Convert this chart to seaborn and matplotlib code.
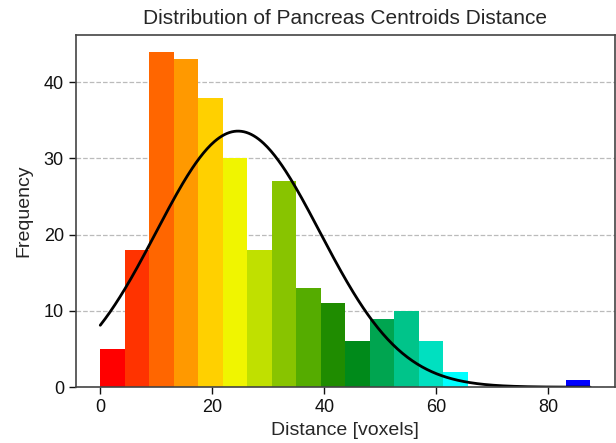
import numpy as np
import pandas as pd
import matplotlib
matplotlib.use("Agg")
import matplotlib.pyplot as plt
import seaborn as sns

# Data
bin_min = 0.0
bin_max = 87.5
counts = [5, 18, 44, 43, 38, 30, 18, 27, 13, 11, 6, 9, 10, 6, 2, 0, 0, 0, 0, 1]
# fitted normal curve parameters
fit_mu = 24.6
fit_sigma = 14.6

bar_colors = ["#ff0000", "#ff3300", "#ff6600", "#ff9900", "#ffd000", "#f0f500",
              "#c0e000", "#88c400", "#55ac00", "#1f8c00", "#008a1a", "#00a550",
              "#00c48a", "#00e0c0", "#00ffff", "#00ccff", "#0099ff", "#0066ff",
              "#0033ff", "#0000ff"]

sns.set_style("white")
plt.rcParams["font.family"] = ["Liberation Sans", "DejaVu Sans"]

n_bins = len(counts)
edges = np.linspace(bin_min, bin_max, n_bins + 1)
centers = (edges[:-1] + edges[1:]) / 2
df = pd.DataFrame({"distance": centers, "count": counts})

fig = plt.figure(figsize=(6.16, 4.43), dpi=100)
ax = fig.add_axes([0.123, 0.126, 0.875, 0.795])

sns.histplot(data=df, x="distance", weights="count", bins=[float(e) for e in edges],
             ax=ax, edgecolor="none", alpha=1.0, linewidth=0)
for patch, c in zip(ax.patches, bar_colors):
    patch.set_facecolor(c)

bw = edges[1] - edges[0]
total = sum(counts)
xs = np.linspace(bin_min, bin_max, 400)
ys = total * bw * np.exp(-0.5 * ((xs - fit_mu) / fit_sigma) ** 2) / (fit_sigma * np.sqrt(2 * np.pi))
sns.lineplot(x=xs, y=ys, ax=ax, color="black", linewidth=2)

ax.set_axisbelow(True)
ax.yaxis.grid(True, linestyle="--", color="#bbbbbb", linewidth=0.9)
ax.xaxis.grid(False)
ax.set_xticks([0, 20, 40, 60, 80])
ax.set_yticks([0, 10, 20, 30, 40])
ax.tick_params(axis="both", direction="out", length=5, width=1, labelsize=13,
               bottom=True, left=True, colors="#111111")
for s in ax.spines.values():
    s.set_color("#444444")
    s.set_linewidth(1.2)
ax.set_xlabel("Distance [voxels]", fontsize=14, labelpad=4)
ax.set_ylabel("Frequency", fontsize=14, labelpad=8)
ax.set_title("Distribution of Pancreas Centroids Distance", fontsize=15, pad=8)

fig.savefig("out.png", dpi=100)
